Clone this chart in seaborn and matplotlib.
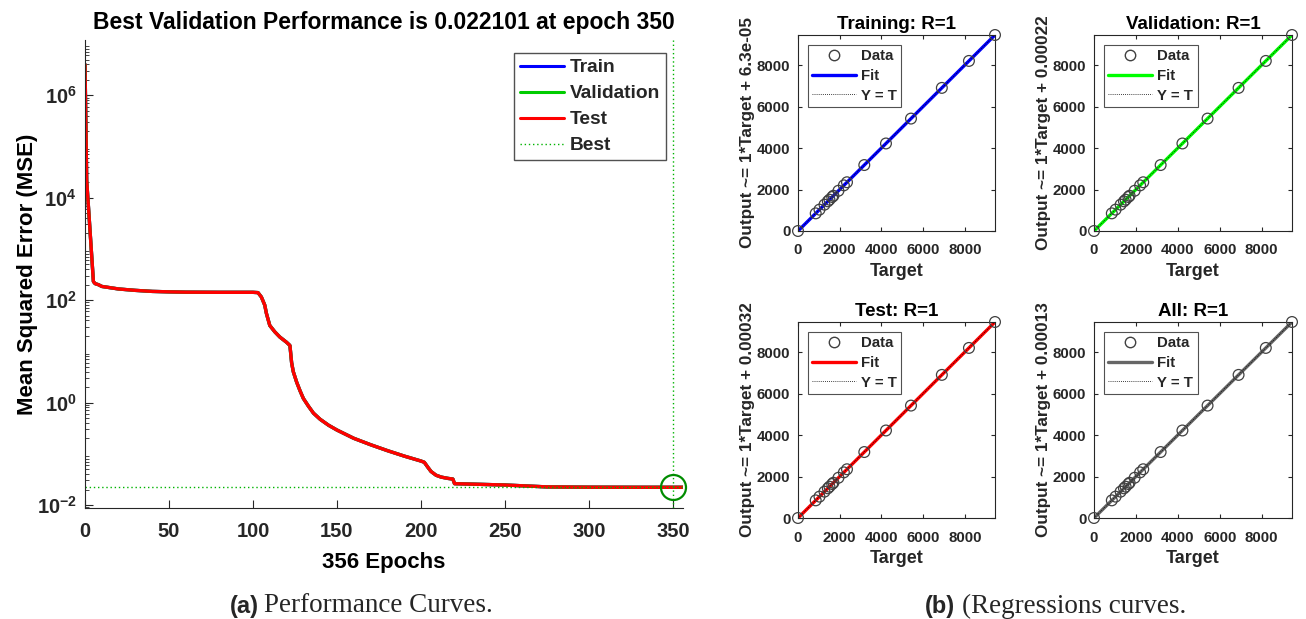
import numpy as np
import pandas as pd
import matplotlib
matplotlib.use("Agg")
import matplotlib.pyplot as plt
import seaborn as sns
from matplotlib.lines import Line2D

sns.set_style("ticks")
plt.rcParams['font.family'] = ['Liberation Sans', 'DejaVu Sans']
plt.rcParams['font.weight'] = 'bold'
plt.rcParams['axes.labelweight'] = 'bold'
plt.rcParams['axes.titleweight'] = 'bold'

# ---------------- data ----------------
epochs = [0, 1, 5, 6, 8, 10, 20, 30, 40, 50, 60, 80, 100, 103, 105, 107, 108, 110,
          113, 116, 120, 122, 123, 124, 126, 128, 130, 133, 136, 140, 145, 150, 160,
          170, 180, 190, 200, 202, 204, 206, 209, 212, 216, 219, 220, 230, 250, 275,
          300, 330, 350, 356]
train_mse = [4.0e6, 2.2e4, 230, 210, 200, 185, 165, 155, 148, 145, 143, 142, 142, 140,
             115, 80, 55, 32, 24, 19, 15, 13, 6, 4, 2.5, 1.7, 1.2, 0.85, 0.62, 0.47,
             0.36, 0.29, 0.2, 0.15, 0.115, 0.09, 0.072, 0.068, 0.055, 0.045, 0.038,
             0.035, 0.033, 0.032, 0.026, 0.0255, 0.0245, 0.0225, 0.0222, 0.0221,
             0.022101, 0.0221]
val_mse = list(train_mse)
test_mse = list(train_mse)
best_epoch = 350
best_perf = 0.022101
n_epochs = 356

targets = [0, 850, 1030, 1270, 1430, 1510, 1640, 1700, 1940, 2200, 2350, 3180,
           4220, 5420, 6900, 8200, 9450]
outputs = list(targets)
panel_titles = ["Training: R=1", "Validation: R=1", "Test: R=1", "All: R=1"]
panel_offsets = ["6.3e-05", "0.00022", "0.00032", "0.00013"]
panel_colors = [(0, 0, 1), (0, 1, 0), (1, 0, 0), (0.4, 0.4, 0.4)]
reg_ticks = [0, 2000, 4000, 6000, 8000]

# ---------------- figure ----------------
W, H = 1306, 619
fig = plt.figure(figsize=(W / 100, H / 100), dpi=100)
tc = (0.15, 0.15, 0.15)

def ax_px(l, t, r, b):
    return fig.add_axes([l / W, (H - b) / H, (r - l) / W, (b - t) / H])

# Performance axes
ax = ax_px(85, 40, 683, 508)
df = pd.DataFrame({"epoch": epochs, "Train": train_mse, "Validation": val_mse,
                   "Test": test_mse})
sns.lineplot(data=df, x="epoch", y="Train", ax=ax, color=(0, 0, 1), lw=2.4)
sns.lineplot(data=df, x="epoch", y="Validation", ax=ax, color=(0, 0.8, 0), lw=2.4)
sns.lineplot(data=df, x="epoch", y="Test", ax=ax, color=(1, 0, 0), lw=2.4)
ax.set_yscale("log")
ax.set_xlim(0, n_epochs)
ax.set_ylim(10 ** -2.06, 10 ** 7.08)
ax.axhline(best_perf, color=(0, 0.7, 0), ls=(0, (1, 2)), lw=1)
ax.axvline(best_epoch, color=(0, 0.7, 0), ls=(0, (1, 2)), lw=1)
ax.plot([best_epoch], [best_perf], 'o', ms=18, mfc='none', mec=(0, 0.55, 0), mew=1.6,
        clip_on=False)
ax.set_xticks([0, 50, 100, 150, 200, 250, 300, 350])
ax.set_yticks([1e-2, 1e0, 1e2, 1e4, 1e6])
ax.yaxis.set_minor_locator(matplotlib.ticker.LogLocator(base=10, subs=np.arange(2, 10), numticks=40))
ax.tick_params(which='both', direction='in', colors=tc, labelsize=14.5)
ax.tick_params(axis='x', which='both', pad=10)
ax.tick_params(axis='y', which='both', pad=6)
ax.tick_params(which='major', length=6)
ax.tick_params(which='minor', length=3)
for s in ['top', 'right']:
    ax.spines[s].set_visible(False)
for s in ['left', 'bottom']:
    ax.spines[s].set_color(tc)
ax.set_title("Best Validation Performance is 0.022101 at epoch 350", fontsize=16.5,
             color='k', pad=8)
ax.set_xlabel("356 Epochs", fontsize=16, color='k', labelpad=8)
ax.set_ylabel("Mean Squared Error (MSE)", fontsize=16, color='k', labelpad=-1)
handles = [Line2D([], [], color=(0, 0, 1), lw=2.2),
           Line2D([], [], color=(0, 0.8, 0), lw=2.2),
           Line2D([], [], color=(1, 0, 0), lw=2.2),
           Line2D([], [], color=(0, 0.7, 0), lw=1, ls=(0, (1, 2)))]
leg = ax.legend(handles, ["Train", "Validation", "Test", "Best"], loc='upper right',
                bbox_to_anchor=(0.9716, 0.972), fontsize=13.8, frameon=True, fancybox=False,
                edgecolor=tc, handlelength=2.3, handletextpad=0.3, borderpad=0.3,
                labelspacing=0.45, borderaxespad=0)
leg.get_frame().set_linewidth(1)

# Regression axes
boxes = [(798, 35, 995, 231), (1094, 35, 1292, 231), (798, 322, 995, 518),
         (1094, 322, 1292, 518)]
lim = max(targets)
for i, (l, t, r, b) in enumerate(boxes):
    a = ax_px(l, t, r, b)
    rd = pd.DataFrame({"Target": targets, "Output": outputs})
    sns.lineplot(x=[0, lim], y=[0, lim], ax=a, color=panel_colors[i], lw=2.4)
    a.plot([0, lim], [0, lim], color='k', ls=(0, (1, 1.5)), lw=0.6)
    sns.scatterplot(data=rd, x="Target", y="Output", ax=a, marker='o', s=60,
                    facecolor='none', edgecolor=(0.25, 0.25, 0.25), linewidth=0.9,
                    zorder=5, clip_on=False)
    a.set_xlim(0, lim)
    a.set_ylim(0, lim)
    a.set_xticks(reg_ticks)
    a.set_yticks(reg_ticks)
    a.tick_params(direction='in', colors=tc, labelsize=10.8, length=3, top=True, right=True)
    a.tick_params(axis='x', pad=9)
    a.tick_params(axis='y', pad=5.5)
    for s in a.spines.values():
        s.set_color(tc)
    a.set_title(panel_titles[i], fontsize=13.5, color='k', pad=4)
    a.set_xlabel("Target", fontsize=13, color=tc, labelpad=4)
    a.set_ylabel("Output ~= 1*Target + " + panel_offsets[i], fontsize=12.3, color=tc,
                 labelpad=1)
    h = [Line2D([], [], ls='none', marker='o', ms=7.5, mfc='none', mec=(0.25, 0.25, 0.25)),
         Line2D([], [], color=panel_colors[i], lw=2.4),
         Line2D([], [], color='k', ls=(0, (1, 1.5)), lw=0.6)]
    lg = a.legend(h, ["Data", "Fit", "Y = T"], loc='upper left', bbox_to_anchor=(0.05, 0.95),
                  fontsize=10.8, frameon=True, fancybox=False, edgecolor=tc,
                  handlelength=2.9, handletextpad=0.35, borderpad=0.3, labelspacing=0.38,
                  borderaxespad=0)
    lg.get_frame().set_linewidth(0.8)

# Captions
cy = 1 - 606 / H
fig.text(259 / W, cy, "(a)", ha='right', va='center', fontsize=17,
         fontweight='bold', family='Liberation Sans')
fig.text(264 / W, cy, "Performance Curves.", ha='left', va='center',
         fontsize=19.5, fontweight='normal', family='Liberation Serif')
fig.text(955 / W, cy, "(b)", ha='right', va='center', fontsize=17,
         fontweight='bold', family='Liberation Sans')
fig.text(962 / W, cy, "(Regressions curves.", ha='left', va='center',
         fontsize=19.5, fontweight='normal', family='Liberation Serif')

fig.savefig("out.png", dpi=100)
